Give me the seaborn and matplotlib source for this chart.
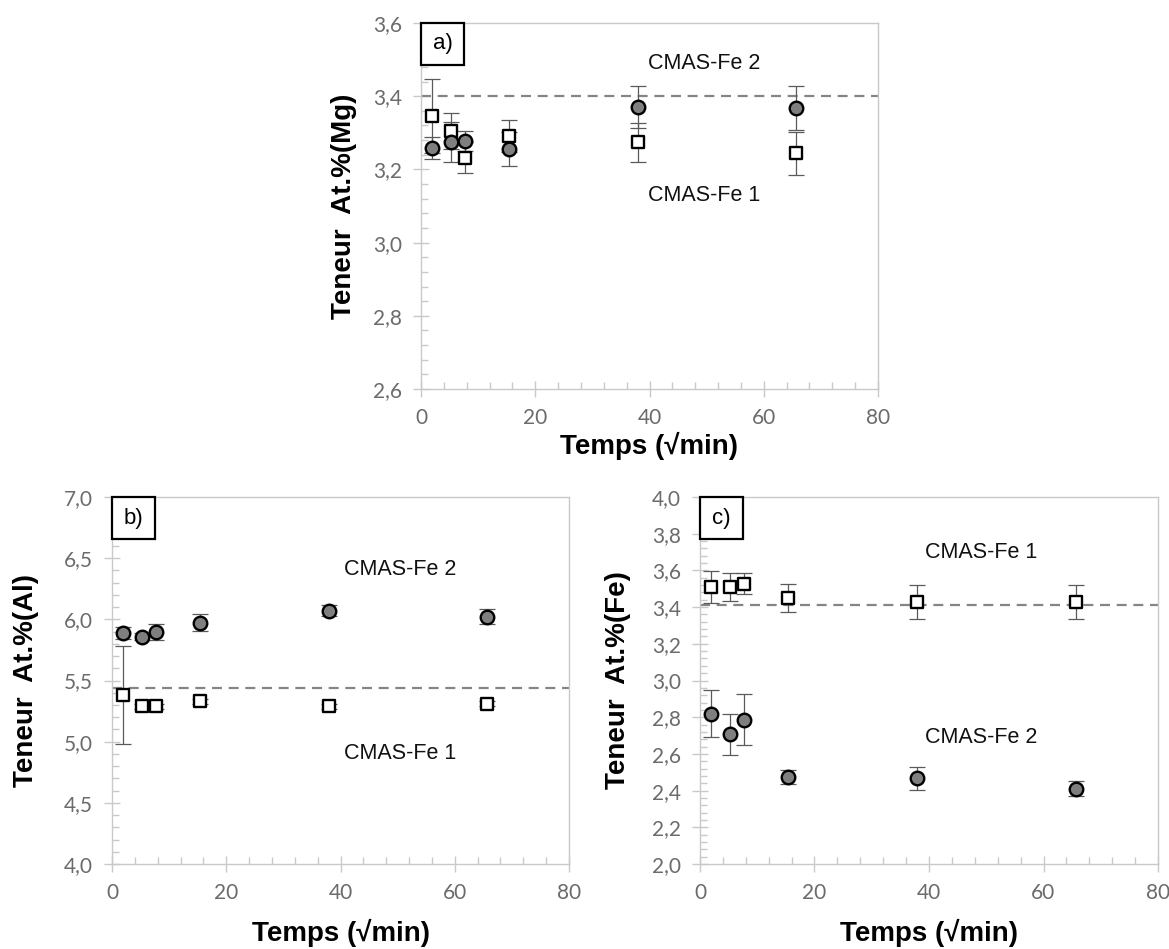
import matplotlib
matplotlib.use("Agg")
import matplotlib.pyplot as plt
from matplotlib.ticker import MultipleLocator, FuncFormatter
from matplotlib.patches import Rectangle
import seaborn as sns
import pandas as pd

# ---------------- data ----------------
temps = [2.0, 5.3, 7.7, 15.4, 37.9, 65.6]

mg_fe1 = [3.346, 3.305, 3.232, 3.291, 3.274, 3.244]
mg_fe1_err = [0.10, 0.05, 0.043, 0.044, 0.053, 0.058]
mg_fe2 = [3.259, 3.275, 3.278, 3.255, 3.371, 3.369]
mg_fe2_err = [0.03, 0.055, 0.028, 0.046, 0.058, 0.06]
mg_ref = 3.40

al_fe1 = [5.38, 5.29, 5.29, 5.33, 5.29, 5.31]
al_fe1_err = [0.40, 0.02, 0.02, 0.02, 0.02, 0.02]
al_fe2 = [5.886, 5.859, 5.894, 5.973, 6.071, 6.022]
al_fe2_err = [0.05, 0.03, 0.066, 0.07, 0.045, 0.06]
al_ref = 5.44

fe_fe1 = [3.509, 3.509, 3.528, 3.448, 3.428, 3.428]
fe_fe1_err = [0.088, 0.078, 0.058, 0.076, 0.093, 0.093]
fe_fe2 = [2.820, 2.706, 2.787, 2.474, 2.467, 2.411]
fe_fe2_err = [0.127, 0.11, 0.139, 0.039, 0.063, 0.042]
fe_ref = 3.41

xlabel = "Temps (\u221amin)"
ylabels = ["Teneur  At.%(Mg)", "Teneur  At.%(Al)", "Teneur  At.%(Fe)"]
panel_tags = ["a)", "b)", "c)"]
series_names = ["CMAS-Fe 1", "CMAS-Fe 2"]

# ---------------- style ----------------
sns.set_theme(style="white")
plt.rcParams["font.family"] = ["Liberation Sans", "DejaVu Sans"]

W, H = 1169, 949
fig = plt.figure(figsize=(W / 100, H / 100), dpi=100)

def axes_px(left, top, right, bottom):
    return fig.add_axes([left / W, 1 - bottom / H, (right - left) / W, (bottom - top) / H])

ax_a = axes_px(421, 23, 878, 389)
ax_b = axes_px(112, 497, 569, 864)
ax_c = axes_px(700, 497, 1158, 864)

spine_col = "#c9c9c9"
tick_lab_col = "#6b6b6b"
err_col = "#5a5a5a"

def comma(v, pos):
    return f"{v:.1f}".replace(".", ",")

def draw_panel(ax, fe1, fe1_err, fe2, fe2_err, ref, ylim, yminor, ylab, tag,
               label_pos, ylab_x, xlab_pad):
    df1 = pd.DataFrame({"t": temps, "v": fe1, "e": fe1_err})
    df2 = pd.DataFrame({"t": temps, "v": fe2, "e": fe2_err})
    ax.axhline(ref, color="#858585", lw=1.6, ls=(0, (4.5, 3)), zorder=1)
    ax.errorbar(df1["t"], df1["v"], yerr=df1["e"], fmt="none", ecolor=err_col,
                elinewidth=0.9, capsize=5.5, capthick=0.9, zorder=2)
    ax.errorbar(df2["t"], df2["v"], yerr=df2["e"], fmt="none", ecolor=err_col,
                elinewidth=0.9, capsize=5.5, capthick=0.9, zorder=2)
    sns.scatterplot(data=df1, x="t", y="v", marker="s", s=82, color="white",
                    edgecolor="black", linewidth=1.7, ax=ax, zorder=3, legend=False)
    sns.scatterplot(data=df2, x="t", y="v", marker="o", s=95, color="#7f7f7f",
                    edgecolor="black", linewidth=1.7, ax=ax, zorder=4, legend=False)

    ax.set_xlim(0, 80)
    ax.set_ylim(*ylim)
    ax.xaxis.set_major_locator(MultipleLocator(20))
    ax.xaxis.set_minor_locator(MultipleLocator(4))
    ax.yaxis.set_major_locator(MultipleLocator(0.2 if ylim[1] - ylim[0] < 2.5 else 0.5))
    ax.yaxis.set_minor_locator(MultipleLocator(yminor))
    ax.yaxis.set_major_formatter(FuncFormatter(comma))
    ax.xaxis.set_major_formatter(FuncFormatter(lambda v, p: f"{v:.0f}"))

    for sp in ax.spines.values():
        sp.set_color(spine_col)
        sp.set_linewidth(1.0)
        sp.set_visible(True)
    ax.tick_params(which="major", direction="inout", length=11, width=1.0,
                   color=spine_col, labelcolor=tick_lab_col, labelsize=15, pad=8,
                   bottom=True, left=True, top=False, right=False)
    ax.tick_params(which="minor", direction="in", length=5, width=1.0,
                   color=spine_col, bottom=True, left=True, top=False, right=False)
    for lab in ax.get_xticklabels() + ax.get_yticklabels():
        lab.set_fontfamily(["Lato", "DejaVu Sans"])

    ax.set_xlabel(xlabel, fontsize=20, fontweight="bold", color="black", labelpad=xlab_pad)
    ax.set_ylabel(ylab, fontsize=20, fontweight="bold", color="black")
    ax.yaxis.set_label_coords(ylab_x, 0.5)

    # panel tag box
    bw, bh = 43 / 457, 42 / 366
    ax.add_patch(Rectangle((0, 1 - bh), bw, bh, transform=ax.transAxes,
                           facecolor="white", edgecolor="black", lw=1.6,
                           zorder=6, clip_on=False))
    ax.text(bw / 2, 1 - bh / 2, tag, transform=ax.transAxes, ha="center",
            va="center", fontsize=16, color="black", zorder=7)

    # series labels
    for name, (lx, ly) in zip(series_names, label_pos):
        ax.text(lx, ly, name, fontsize=15.5, color="#111111", ha="left",
                va="center", zorder=5)

draw_panel(ax_a, mg_fe1, mg_fe1_err, mg_fe2, mg_fe2_err, mg_ref, (2.6, 3.6), 0.04,
           ylabels[0], panel_tags[0], [(39.7, 3.13), (39.7, 3.49)], -0.14, 3)
draw_panel(ax_b, al_fe1, al_fe1_err, al_fe2, al_fe2_err, al_ref, (4.0, 7.0), 0.1,
           ylabels[1], panel_tags[1], [(40.7, 4.90), (40.7, 6.41)], -0.16, 12)
draw_panel(ax_c, fe_fe1, fe_fe1_err, fe_fe2, fe_fe2_err, fe_ref, (2.0, 4.0), 0.04,
           ylabels[2], panel_tags[2], [(39.3, 3.70), (39.3, 2.69)], -0.15, 12)

fig.savefig("out.png", dpi=100, facecolor="white")
